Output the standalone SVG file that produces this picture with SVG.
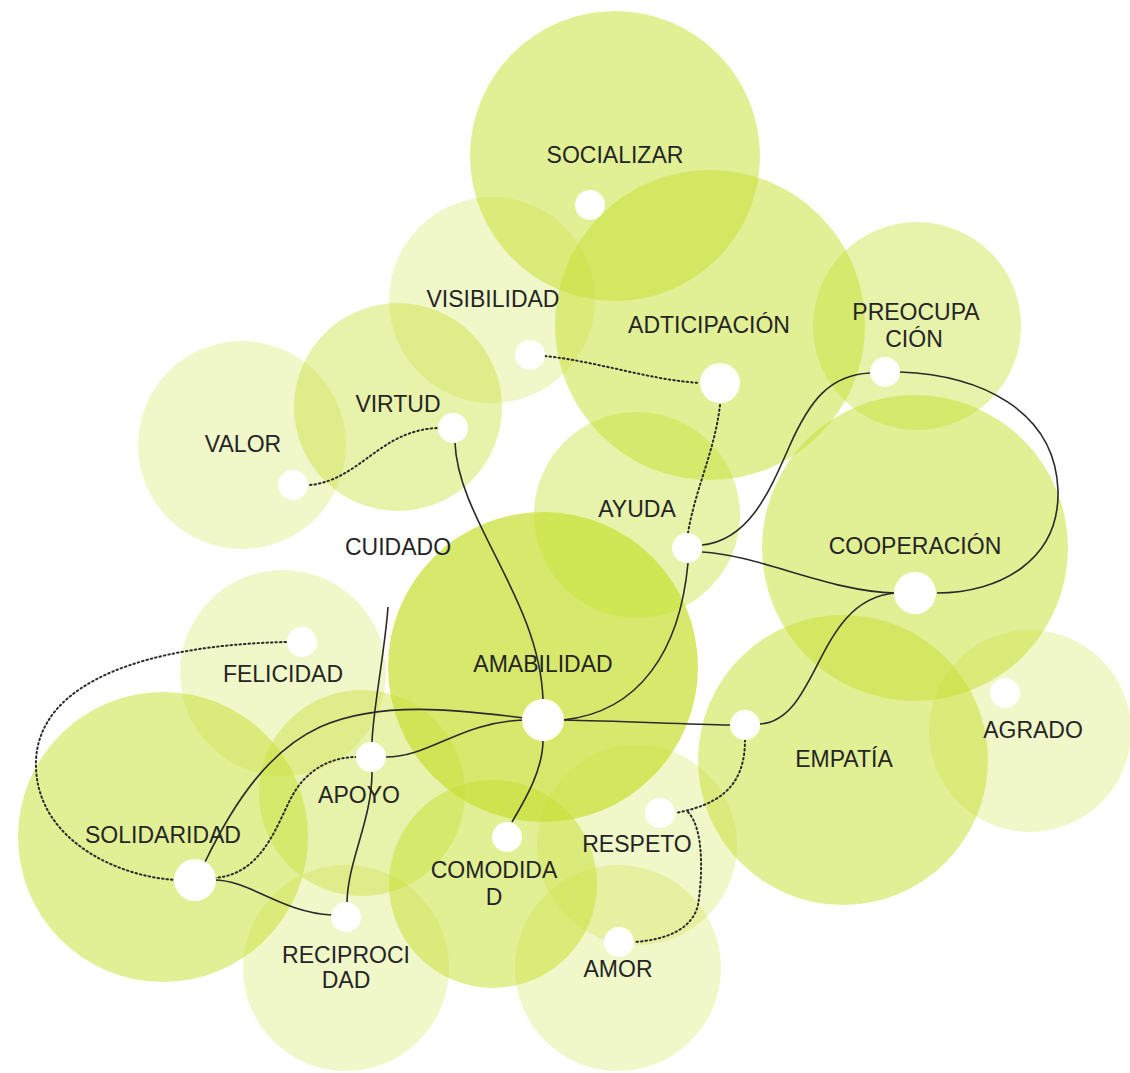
<svg xmlns="http://www.w3.org/2000/svg" width="1130" height="1073" viewBox="0 0 1130 1073">
<style>
.b{fill:#c6e134}
.l{fill-opacity:0.27}
.m{fill-opacity:0.42}
.h{fill-opacity:0.52}
.d{fill-opacity:0.72}
.dot{fill:#ffffff}
text{font-family:"Liberation Sans",Arial,sans-serif;font-size:23px;fill:#252525;text-anchor:middle}
.s{fill:none;stroke:#2a2a2a;stroke-width:1.6}
.t{fill:none;stroke:#2a2a2a;stroke-width:2;stroke-dasharray:1.5 3;stroke-linecap:round}
</style>
<rect width="1130" height="1073" fill="#ffffff"/>
<g id="bubbles">
<circle id="c-socializar" class="b h" cx="615" cy="156" r="145"/>
<circle id="c-adticipacion" class="b h" cx="710" cy="325" r="155"/>
<circle id="c-visibilidad" class="b l" cx="492" cy="300" r="103"/>
<circle id="c-virtud" class="b m" cx="398" cy="407" r="104"/>
<circle id="c-valor" class="b l" cx="242" cy="445" r="104"/>
<circle id="c-preocupacion" class="b m" cx="917" cy="326" r="104"/>
<circle id="c-cooperacion" class="b h" cx="915" cy="548" r="153"/>
<circle id="c-ayuda" class="b m" cx="637" cy="515" r="103"/>
<circle id="c-amabilidad" class="b d" cx="543" cy="667" r="155"/>
<circle id="c-felicidad" class="b l" cx="283" cy="673" r="103"/>
<circle id="c-solidaridad" class="b h" cx="163" cy="837" r="145"/>
<circle id="c-apoyo" class="b m" cx="362" cy="793" r="103"/>
<circle id="c-reciprocidad" class="b l" cx="346" cy="968" r="103"/>
<circle id="c-comodidad" class="b h" cx="493" cy="884" r="104"/>
<circle id="c-respeto" class="b l" cx="637" cy="845" r="100"/>
<circle id="c-amor" class="b l" cx="618" cy="968" r="103"/>
<circle id="c-empatia" class="b h" cx="843" cy="760" r="145"/>
<circle id="c-agrado" class="b l" cx="1030" cy="731" r="101"/>
</g>
<g id="connectors">
<path class="s" d="M455,443 C458,520 540,600 543,700"/>
<path class="s" d="M388,607 C385,650 373,710 372,742"/>
<path class="s" d="M372,772 C372,820 348,860 347,902"/>
<path class="s" d="M386,757 C430,757 460,722 524,720"/>
<path class="s" d="M524,718 C460,710 380,700 320,727 C270,750 235,800 205,862"/>
<path class="s" d="M214,880 C250,880 280,912 332,915"/>
<path class="s" d="M543,740 C543,770 525,800 512,822"/>
<path class="s" d="M563,720 C640,712 680,650 688,563"/>
<path class="s" d="M563,720 C620,721 680,724 730,725"/>
<path class="s" d="M760,724 C820,720 815,600 895,593"/>
<path class="s" d="M702,552 C760,555 830,592 895,593"/>
<path class="s" d="M702,545 C750,540 770,490 790,445 C810,400 830,375 870,373"/>
<path class="s" d="M900,372 C980,375 1055,410 1058,490 C1060,560 1000,593 937,593"/>
<path class="t" d="M545,356 C600,362 650,380 700,383"/>
<path class="t" d="M720,405 C715,450 695,490 688,533"/>
<path class="t" d="M310,485 C360,480 380,430 438,428"/>
<path class="t" d="M286,642 C150,645 40,680 36,760 C33,840 120,878 178,880"/>
<path class="t" d="M214,878 C260,875 275,830 290,800 C305,770 330,757 357,757"/>
<path class="t" d="M745,740 C745,790 715,805 676,813"/>
<path class="t" d="M688,812 C705,830 702,880 698,905 C692,930 665,940 634,942"/>
</g>
<g id="n-socializar"><circle class="dot" cx="590" cy="205" r="15"/><text x="615" y="163">SOCIALIZAR</text></g>
<g id="n-visibilidad"><circle class="dot" cx="530" cy="355" r="15"/><text x="493" y="307">VISIBILIDAD</text></g>
<g id="n-adticipacion"><circle class="dot" cx="720" cy="383" r="20"/><text x="709" y="333">ADTICIPACIÓN</text></g>
<g id="n-preocupacion"><circle class="dot" cx="885" cy="372" r="15"/><text x="916" y="320">PREOCUPA</text><text x="914" y="347">CIÓN</text></g>
<g id="n-virtud"><circle class="dot" cx="453" cy="428" r="15"/><text x="398" y="412">VIRTUD</text></g>
<g id="n-valor"><circle class="dot" cx="293" cy="485" r="15"/><text x="243" y="452">VALOR</text></g>
<g id="n-cuidado"><text x="398" y="555">CUIDADO</text></g>
<g id="n-ayuda"><circle class="dot" cx="687" cy="548" r="15"/><text x="637" y="517">AYUDA</text></g>
<g id="n-cooperacion"><circle class="dot" cx="915" cy="593" r="21"/><text x="915" y="554">COOPERACIÓN</text></g>
<g id="n-amabilidad"><circle class="dot" cx="543" cy="720" r="21"/><text x="543" y="672">AMABILIDAD</text></g>
<g id="n-felicidad"><circle class="dot" cx="302" cy="642" r="15"/><text x="283" y="682">FELICIDAD</text></g>
<g id="n-apoyo"><circle class="dot" cx="371" cy="757" r="15"/><text x="359" y="803">APOYO</text></g>
<g id="n-solidaridad"><circle class="dot" cx="195" cy="880" r="21"/><text x="163" y="843">SOLIDARIDAD</text></g>
<g id="n-reciprocidad"><circle class="dot" cx="346" cy="917" r="15"/><text x="346" y="963">RECIPROCI</text><text x="346" y="988">DAD</text></g>
<g id="n-comodidad"><circle class="dot" cx="507" cy="837" r="15"/><text x="494" y="878">COMODIDA</text><text x="494" y="905">D</text></g>
<g id="n-respeto"><circle class="dot" cx="660" cy="813" r="15"/><text x="637" y="852">RESPETO</text></g>
<g id="n-amor"><circle class="dot" cx="619" cy="942" r="15"/><text x="618" y="977">AMOR</text></g>
<g id="n-empatia"><circle class="dot" cx="745" cy="725" r="15"/><text x="844" y="767">EMPATÍA</text></g>
<g id="n-agrado"><circle class="dot" cx="1005" cy="693" r="15"/><text x="1033" y="738">AGRADO</text></g>
</svg>
